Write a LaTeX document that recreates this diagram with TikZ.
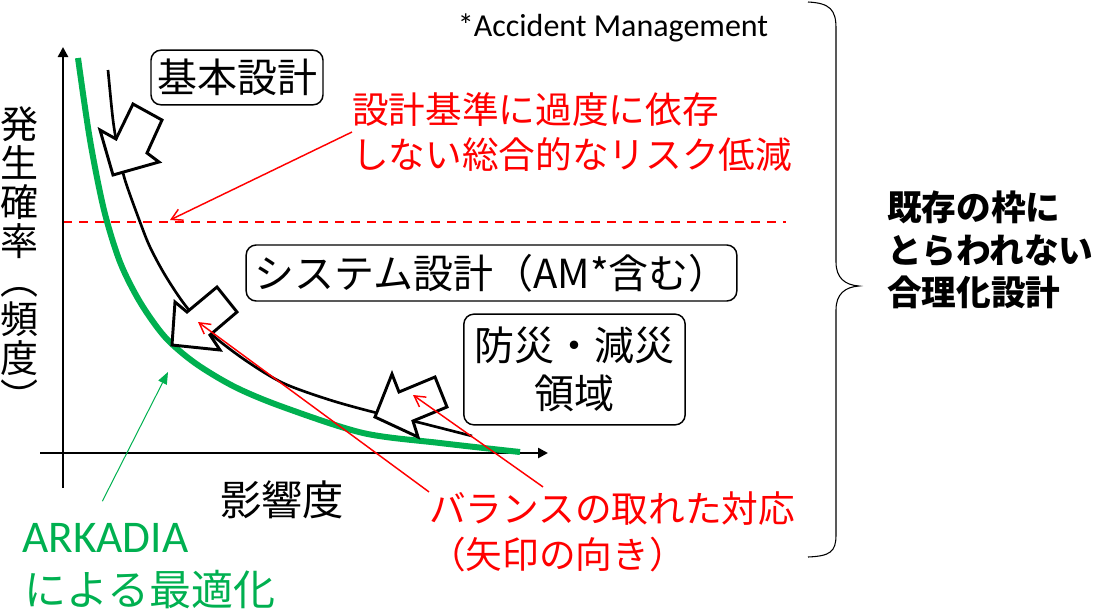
\documentclass[tikz,border=0pt]{standalone}
\usepackage{fontspec}
\setmainfont{Noto Sans CJK JP}
\newfontfamily\latinfont{Carlito}
\usepackage{xcolor}
\usepackage{tikz}
\usetikzlibrary{arrows.meta,positioning,calc}
\definecolor{riskred} {RGB}{255,0,0}
\definecolor{arkgreen}{RGB}{0,176,80}
\tikzset{
  labbox/.style  ={draw, rounded corners=7.5pt, line width=1.1pt, align=center,
                   inner sep=0pt, font=\fontsize{30pt}{36pt}\selectfont},
  blockarr/.style={draw, fill=white, line width=2.2pt, line join=miter},
  axis/.style    ={line width=1.9pt, -{Triangle[length=7.5pt,width=7.5pt]}},
  redarr/.style  ={riskred, line width=1.1pt, -{Straight Barb[length=8pt,width=9pt]}},
  grnarr/.style  ={arkgreen, line width=0.75pt, -{Triangle[length=9pt,width=7pt]}},
  redtxt/.style  ={riskred, align=left, inner sep=0pt,
                   font=\fontsize{27.5pt}{34pt}\selectfont},
  plaintxt/.style={inner sep=0pt, align=center},
}

\begin{document}
\begin{tikzpicture}[x=0.75pt,y=-0.75pt]
  \useasboundingbox (0,0) rectangle (1093,612);
  %% axes and threshold
  \draw[riskred, line width=1.5pt, dash pattern=on 6.75pt off 5.25pt] (63,222) -- (786,222);
  \draw[axis] (63,488) -- (63,47);
  \draw[axis] (40,453) -- (548,453);
  %% curves
  \draw[arkgreen, line width=4.5pt] plot[smooth] coordinates
    {(78,58) (90,140) (104,210) (120,262) (140,302) (165,337) (195,363) (235,387) (283,407) (363,433) (440,443) (520,452)};
  \draw[line width=2pt] plot[smooth] coordinates
    {(108,70) (113,120) (118,150) (125,180) (140,222) (150,247) (165,275) (185,305) (210,333)
     (245,360) (283,383) (330,400) (377,413) (417,422) (472,436)};
  %% block arrows on the curve
  \draw[blockarr] (133,104) -- (162,120) -- (147,153) -- (159,162) -- (113,175) -- (100,130) -- (116,139) -- cycle;
  \draw[blockarr] (187,312) -- (217,287) -- (237,312) -- (210,335) -- (220,350) -- (172,345) -- (175,302) -- cycle;
  \draw[blockarr] (392,374) -- (399,392) -- (435,377) -- (447,407) -- (413,421) -- (418,437) -- (375,417) -- cycle;
  %% boxed labels
  \node[labbox, minimum width=129pt, minimum height=41pt] (kihon) at (237,77.5) {基本設計};
  \node[labbox, minimum width=368pt, minimum height=42pt] (system) at (491.5,273) {システム設計（AM*含む）};
  \node[labbox, minimum width=166pt, minimum height=83pt] (bousai) at (574.5,369.5) {防災・減災\\領域};
  %% texts
  \node[plaintxt, font=\latinfont\fontsize{24pt}{28pt}\selectfont] (amnote) at (613,28) {*Accident Management};
  \node[plaintxt, font=\fontsize{28.5pt}{29.25pt}\selectfont] (ylab) at (20,259) {発\\生\\確\\率\\︵\\頻\\度\\︶};
  \node[plaintxt, font=\fontsize{31pt}{36pt}\selectfont] (xlab) at (282,500) {影響度};
  \node[redtxt, anchor=west] (risk) at (352,132) {設計基準に過度に依存\\しない総合的なリスク低減};
  \node[redtxt, anchor=west] (balance) at (429,532) {バランスの取れた対応\\（矢印の向き）};
  \node[inner sep=0pt, anchor=west, arkgreen, font=\latinfont\fontsize{34pt}{40pt}\selectfont] (arkadia) at (22,538) {ARKADIA};
  \node[inner sep=0pt, anchor=west, arkgreen, font=\fontsize{31.5pt}{38pt}\selectfont] (optim) at (24,590) {による最適化};
  \node[inner sep=0pt, anchor=west, align=left, font=\bfseries\fontsize{26pt}{32pt}\selectfont] (frame) at (887,250)
    {既存の枠に\\とらわれない\\合理化設計};
  %% pointers
  \coordinate (tipbase) at (170,220);
  \coordinate (tipsys)  at (198,322);
  \coordinate (tipbou)  at (413,395);
  \coordinate (tipark)  at (168,372);
  \draw[redarr] (risk.west) -- (tipbase);
  \draw[redarr] (balance.north west) -- (tipsys);
  \draw[redarr] ($(balance.north west)+(114,-5)$) -- (tipbou);
  \draw[grnarr] ($(arkadia.north)+(-3,-22)$) -- (tipark);
  %% brace
  \draw[line width=0.8pt] (808,2) .. controls (830,3) and (836,10) .. (836,28) -- (836,262)
    .. controls (836,278) and (845,285) .. (859,286)
    .. controls (845,287) and (836,294) .. (836,310) -- (836,535)
    .. controls (836,552) and (830,556) .. (808,557);
\end{tikzpicture}
\end{document}
